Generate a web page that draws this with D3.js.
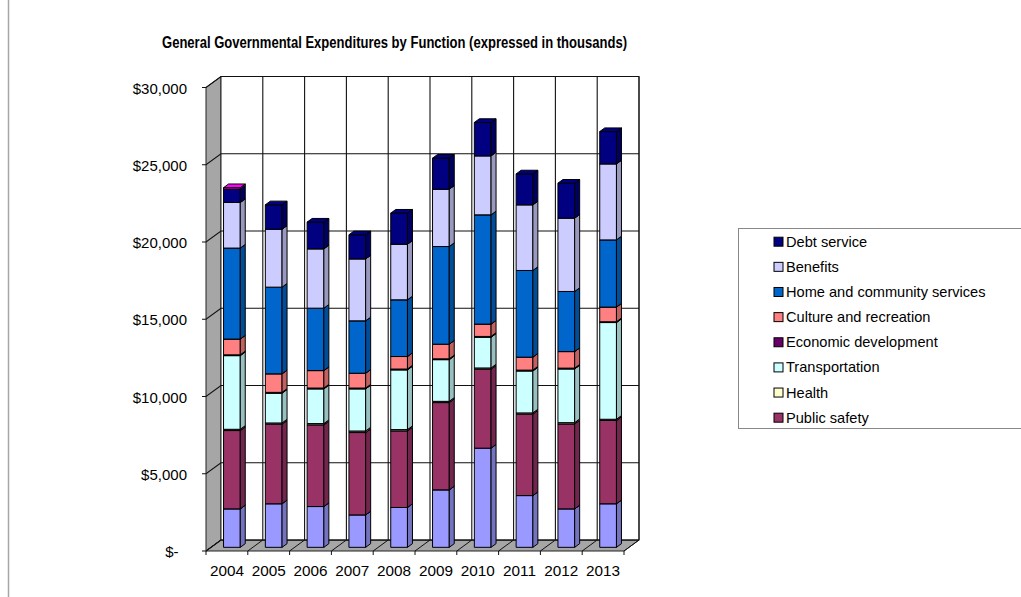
<!DOCTYPE html>
<html>
<head>
<meta charset="utf-8">
<script src="https://cdn.jsdelivr.net/npm/d3@7"></script>
<style>
  body { margin: 0; background: #fff; }
  svg { display: block; font-family: "Liberation Sans", Arial, sans-serif; }
</style>
</head>
<body>
<div id="chart"></div>
<script>
// datos en miles de dolares
const years = ["2004", "2005", "2006", "2007", "2008", "2009", "2010", "2011", "2012", "2013"];
const generalGovernment = [2490, 2820, 2640, 2100, 2580, 3720, 6420, 3350, 2490, 2820];
const publicSafety = [5070, 5150, 5290, 5330, 4960, 5650, 5110, 5270, 5500, 5390];
const health = [80, 80, 80, 100, 80, 80, 80, 80, 80, 80];
const transportation = [4770, 1930, 2250, 2730, 3870, 2700, 1990, 2720, 3480, 6260];
const economicDevelopment = [50, 50, 50, 50, 50, 50, 50, 50, 50, 50];
const cultureRecreation = [1020, 1200, 1130, 960, 810, 950, 800, 840, 1070, 950];
const homeCommunity = [5890, 5610, 4040, 3390, 3670, 6320, 7070, 5610, 3890, 4350];
const benefits = [2950, 3750, 3840, 4010, 3600, 3710, 3820, 4250, 4750, 4920];
const debtService = [860, 1580, 1730, 1560, 2010, 2010, 2160, 2000, 2260, 2090];
const otherUses = [100, 0, 0, 0, 0, 0, 0, 0, 0, 0];

const seriesNames = ["General government support", "Public safety", "Health", "Transportation",
  "Economic development", "Culture and recreation", "Home and community services",
  "Benefits", "Debt service", "Other"];
const seriesValues = [generalGovernment, publicSafety, health, transportation, economicDevelopment,
  cultureRecreation, homeCommunity, benefits, debtService, otherUses];
const seriesColors = ["#9999FF", "#993366", "#FFFFCC", "#CCFFFF", "#660066",
  "#FF8080", "#0066CC", "#CCCCFF", "#000080", "#FF00FF"];
// la leyenda solo muestra estas (en orden inverso)
const legendNames = ["Debt service", "Benefits", "Home and community services", "Culture and recreation",
  "Economic development", "Transportation", "Health", "Public safety"];

const yTicks = [0, 5000, 10000, 15000, 20000, 25000, 30000];

const width = 1021, height = 597;
const DX = 15, DY = -11;          // profundidad del piso / pared
const F0 = 1 / 3, F1 = 2 / 3;     // las barras ocupan el tercio medio

const svg = d3.select("#chart").append("svg")
  .attr("width", width)
  .attr("height", height);

// marco exterior
svg.append("line")
  .attr("x1", 8.5).attr("x2", 8.5).attr("y1", 0).attr("y2", height)
  .attr("stroke", "#a6a6a6").attr("stroke-width", 1.5);

// titulo
svg.append("text")
  .attr("x", 394.5).attr("y", 48)
  .attr("text-anchor", "middle")
  .attr("font-size", 16).attr("font-weight", "bold")
  .attr("textLength", 465).attr("lengthAdjust", "spacingAndGlyphs")
  .text("General Governmental Expenditures by Function (expressed in thousands)");

const x = d3.scaleBand().domain(years).range([206, 624]).padding(0);
const y = d3.scaleLinear().domain([0, 30000]).range([551, 87.5]);

const x0 = x.range()[0], x1 = x.range()[1];
const pts = p => p.map(d => d.join(",")).join(" ");

// paredes
svg.append("polygon")
  .attr("points", pts([[x0, y(30000)], [x0 + DX, y(30000) + DY], [x0 + DX, y(0) + DY], [x0, y(0)]]))
  .attr("fill", "#a6a6a6").attr("stroke", "#222").attr("stroke-width", 1);
svg.append("polygon")
  .attr("points", pts([[x0, y(0)], [x1, y(0)], [x1 + DX, y(0) + DY], [x0 + DX, y(0) + DY]]))
  .attr("fill", "#a6a6a6").attr("stroke", "#222").attr("stroke-width", 1);
svg.append("rect")
  .attr("x", x0 + DX).attr("y", y(30000) + DY)
  .attr("width", x1 - x0).attr("height", y(0) - y(30000))
  .attr("fill", "#fff").attr("stroke", "#222").attr("stroke-width", 1);

// lineas de division horizontales
yTicks.forEach(t => {
  svg.append("polyline")
    .attr("points", pts([[x0 - 4, y(t)], [x0, y(t)], [x0 + DX, y(t) + DY], [x1 + DX, y(t) + DY]]))
    .attr("fill", "none").attr("stroke", "#111").attr("stroke-width", 1.1);
  svg.append("text")
    .attr("x", t === 0 ? 178.5 : 187).attr("y", y(t) + 6)
    .attr("text-anchor", "end").attr("font-size", 15)
    .text(t === 0 ? "$-" : "$" + d3.format(",")(t));
});

// divisiones de categorias (pared trasera, piso, marcas)
const bounds = years.map(d => x(d)).concat([x1]);
bounds.forEach((b, i) => {
  if (i > 0) {
    svg.append("line")
      .attr("x1", b + DX).attr("x2", b + DX)
      .attr("y1", y(30000) + DY).attr("y2", y(0) + DY)
      .attr("stroke", "#111").attr("stroke-width", 1.1);
  }
  svg.append("polyline")
    .attr("points", pts([[b, y(0) + 4], [b, y(0)], [b + DX, y(0) + DY]]))
    .attr("fill", "none").attr("stroke", "#111").attr("stroke-width", 1);
});

svg.selectAll(".year")
  .data(years)
  .enter().append("text")
  .attr("class", "year")
  .attr("x", d => x(d) + x.bandwidth() / 2)
  .attr("y", 576)
  .attr("text-anchor", "middle").attr("font-size", 15.3)
  .text(d => d);

// barras apiladas en 3D
const table = years.map((yr, i) => {
  const row = { year: yr };
  seriesNames.forEach((n, j) => { row[n] = seriesValues[j][i]; });
  return row;
});
const stacked = d3.stack().keys(seriesNames)(table);
const barW = x.bandwidth() / 2.5;

years.forEach((yr, i) => {
  const bx = x(yr) + (x.bandwidth() - barW) / 2;
  const g = svg.append("g");
  stacked.forEach((layer, j) => {
    const v0 = layer[i][0], v1 = layer[i][1];
    if (v1 - v0 <= 0) return;
    const c = seriesColors[j];
    const fx = bx + F0 * DX, fx2 = fx + barW;
    const fy0 = y(v0) + F0 * DY, fy1 = y(v1) + F0 * DY;
    const sx = (F1 - F0) * DX, sy = (F1 - F0) * DY;
    // cara frontal
    g.append("polygon")
      .attr("points", pts([[fx, fy0], [fx2, fy0], [fx2, fy1], [fx, fy1]]))
      .attr("fill", c).attr("stroke", "#000").attr("stroke-width", 1);
    // cara lateral
    g.append("polygon")
      .attr("points", pts([[fx2, fy0], [fx2 + sx, fy0 + sy], [fx2 + sx, fy1 + sy], [fx2, fy1]]))
      .attr("fill", d3.color(c).darker(0.8)).attr("stroke", "#000").attr("stroke-width", 1);
    // cara superior
    g.append("polygon")
      .attr("points", pts([[fx, fy1], [fx2, fy1], [fx2 + sx, fy1 + sy], [fx + sx, fy1 + sy]]))
      .attr("fill", c).attr("stroke", "#000").attr("stroke-width", 1);
  });
});

// leyenda
const legend = svg.append("g");
legend.append("rect")
  .attr("x", 738.5).attr("y", 228.5)
  .attr("width", 300).attr("height", 200)
  .attr("fill", "#fff").attr("stroke", "#888").attr("stroke-width", 1);

legendNames.forEach((n, i) => {
  const cy = 241.7 + i * 25.14;
  legend.append("rect")
    .attr("x", 774).attr("y", cy - 4.5)
    .attr("width", 9).attr("height", 9)
    .attr("fill", seriesColors[seriesNames.indexOf(n)])
    .attr("stroke", "#000").attr("stroke-width", 1);
  legend.append("text")
    .attr("x", 786).attr("y", cy + 5)
    .attr("font-size", 14.6)
    .text(n);
});
</script>
</body>
</html>
